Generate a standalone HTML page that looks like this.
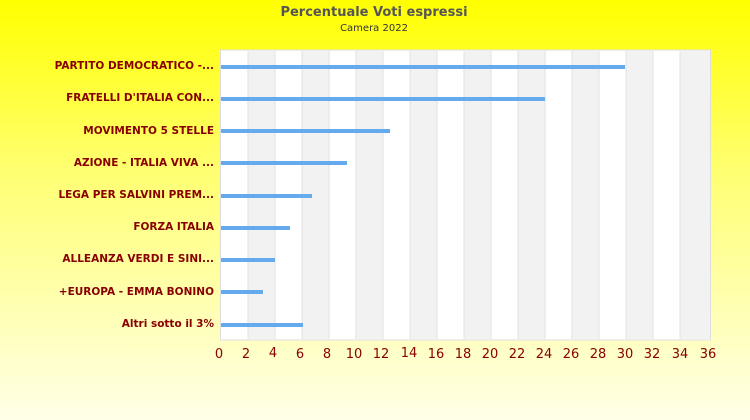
<!DOCTYPE html>
<html><head><meta charset="utf-8"><style>
body{margin:0;width:750px;height:420px;overflow:hidden;background:linear-gradient(#ffff00 0%,#ffff70 40%,#ffffe8 100%);font-family:"Liberation Sans","DejaVu Sans",sans-serif;}
</style></head><body>
<svg width="750" height="420" xmlns="http://www.w3.org/2000/svg" style="position:absolute;left:0;top:0">
<text x="374" y="16" text-anchor="middle" font-family="DejaVu Sans,sans-serif" font-size="13" font-weight="bold" fill="#555">Percentuale Voti espressi</text>
<text x="374" y="31" text-anchor="middle" font-family="DejaVu Sans,sans-serif" font-size="10" fill="#333">Camera 2022</text>
<rect x="220.5" y="50" width="490" height="290" fill="#fff" stroke="#ddd"/>
<g fill="#f2f2f2">
<rect x="248" y="51" width="27" height="288"/><rect x="302" y="51" width="27" height="288"/><rect x="356" y="51" width="27" height="288"/><rect x="410" y="51" width="27" height="288"/><rect x="464" y="51" width="27" height="288"/><rect x="518" y="51" width="27" height="288"/><rect x="572" y="51" width="27" height="288"/><rect x="626" y="51" width="27" height="288"/><rect x="680" y="51" width="30" height="288"/>
</g>
<g stroke="#e2e2e2"><path d="M248 51V339M275 51V339M302 51V339M329 51V339M356 51V339M383 51V339M410 51V339M437 51V339M464 51V339M491 51V339M518 51V339M545 51V339M572 51V339M599 51V339M626 51V339M653 51V339M680 51V339"/></g>
<g fill="#66aaee">
<rect x="221" y="65" width="404" height="4"/><rect x="221" y="97" width="324" height="4"/><rect x="221" y="129" width="169" height="4"/><rect x="221" y="161" width="126" height="4"/><rect x="221" y="194" width="91" height="4"/><rect x="221" y="226" width="69" height="4"/><rect x="221" y="258" width="54" height="4"/><rect x="221" y="290" width="42" height="4"/><rect x="221" y="323" width="82" height="4"/>
</g>
<g font-family="DejaVu Sans,sans-serif" font-size="10.5" font-weight="bold" fill="#880000" text-anchor="end">
<text x="214" y="69">PARTITO DEMOCRATICO -...</text><text x="214" y="101">FRATELLI D'ITALIA CON...</text><text x="214" y="134">MOVIMENTO 5 STELLE</text><text x="214" y="166">AZIONE - ITALIA VIVA ...</text><text x="214" y="198">LEGA PER SALVINI PREM...</text><text x="214" y="230">FORZA ITALIA</text><text x="214" y="262">ALLEANZA VERDI E SINI...</text><text x="214" y="295">+EUROPA - EMMA BONINO</text><text x="214" y="327">Altri sotto il 3%</text>
</g>
<g font-family="DejaVu Sans,sans-serif" font-size="13" fill="#880000" text-anchor="middle">
<text x="219" y="358">0</text><text x="246" y="358">2</text><text x="273" y="357">4</text><text x="300" y="358">6</text><text x="327" y="358">8</text><text x="354" y="358">10</text><text x="381" y="358">12</text><text x="409" y="357">14</text><text x="436" y="358">16</text><text x="463" y="358">18</text><text x="490" y="358">20</text><text x="517" y="358">22</text><text x="544" y="358">24</text><text x="571" y="358">26</text><text x="598" y="358">28</text><text x="625" y="358">30</text><text x="652" y="358">32</text><text x="680" y="358">34</text><text x="708" y="358">36</text>
</g>
</svg>
</body></html>
